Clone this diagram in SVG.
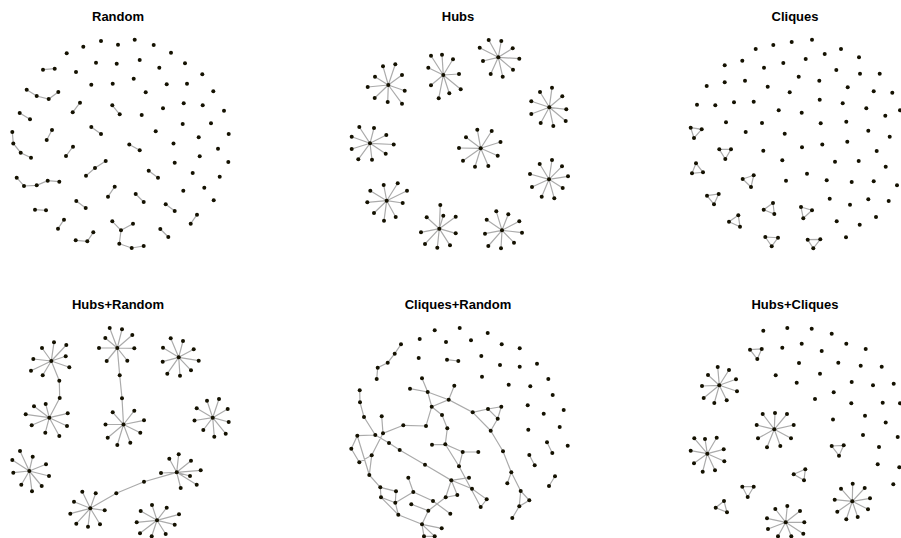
<svg xmlns="http://www.w3.org/2000/svg" width="901" height="538" viewBox="0 0 901 538">
<style>
.t{font-family:"Liberation Sans",Arial,sans-serif;font-weight:bold;font-size:13px;text-anchor:middle;fill:#000}
.e{fill:none;stroke:#ababab;stroke-width:1.2}
.n circle{fill:#141100}
</style>
<rect width="901" height="538" fill="#fff"/>
<g id="titles">
<text class="t" x="118" y="21">Random</text>
<text class="t" x="458" y="21">Hubs</text>
<text class="t" x="795" y="21">Cliques</text>
<text class="t" x="118" y="309">Hubs+Random</text>
<text class="t" x="458" y="309">Cliques+Random</text>
<text class="t" x="795" y="309">Hubs+Cliques</text>
</g>

<g id="connectors">
<path id="edges-random" class="e" d="M43,69.7L54.7,68.7M26.7,89.7L36.7,96L48.7,99L58.3,92M80,102.7L72.7,112.3M112.3,105.3L119.7,114.3M19.7,113L30,119.3M91.3,127L101,134M52,130L46.7,140M12.3,132L13.3,143.5L20.7,152.7L31,157.7M129.3,144.5L139.7,150.3M73,146.7L66,156M105.7,161L95,168L86,175.7M148.7,170.7L158,177.7M16.7,177.7L24,186L36.7,185.3L47.7,180.7L59.3,181.7M114.7,186.7L108,196.7M135.7,194L143.7,202M76.3,201L85.7,208M165.7,204.3L174.7,211M35,209.7L46,210.3M197,214.7L190.7,223.7M64,219.7L58,228.7M112.3,221.3L121,230.3L133,223.7M121,230.3L119.3,243.7L131.7,248L143.7,246M160.3,229L168.3,237M75.7,240.3L87.3,241.3L93.3,232.3"/>
<path id="edges-hubs" class="e" d="M388.3,85L383,66.3M388.3,85L395.3,64.3M388.3,85L375,76.7M388.3,85L402,75M388.3,85L367.7,87M388.3,85L404.7,90.7M388.3,85L374.7,98M388.3,85L387.7,102M388.3,85L402,103.7
M443.3,75L431,55.7M443.3,75L442,54.7M443.3,75L453,59.3M443.3,75L428.3,67.7M443.3,75L459,74M443.3,75L431,85.3M443.3,75L460.7,89.3M443.3,75L438.7,98.3M443.3,75L449.3,93.3
M498.3,57.3L488.7,40M498.3,57.3L501.3,41M498.3,57.3L479.7,47.7M498.3,57.3L512.7,48.3M498.3,57.3L483,61M498.3,57.3L519.3,58.7M498.3,57.3L490.7,74M498.3,57.3L513,69.7M498.3,57.3L502.7,76.7
M549.3,107.3L540,92M549.3,107.3L552,87.7M549.3,107.3L562.3,96.3M549.3,107.3L531.3,101.3M549.3,107.3L566.3,109.3M549.3,107.3L531.3,114M549.3,107.3L565.7,121M549.3,107.3L540.7,123M549.3,107.3L553.3,126
M370,143.3L359.3,127M370,143.3L374,128M370,143.3L351.7,136.7M370,143.3L386.3,135M370,143.3L393.7,144.5M370,143.3L351.7,149M370,143.3L385.7,153.7M370,143.3L358.3,159.3M370,143.3L372,159.7
M480.7,148.3L477.3,129.7M480.7,148.3L491.7,131M480.7,148.3L466,137.3M480.7,148.3L500.5,142M480.7,148.3L459,148M480.7,148.3L497.7,155.7M480.7,148.3L463,160.7M480.7,148.3L475,166.7M480.7,148.3L488.3,166
M549,179.3L539.7,164M549,179.3L552,160M549,179.3L562,166.3M549,179.3L530,174M549,179.3L568,176.3M549,179.3L532,187M549,179.3L562.7,188M549,179.3L541.7,196.7M549,179.3L554.3,198.3
M386.7,200.7L383.7,185M386.7,200.7L397.7,183.3M386.7,200.7L370.3,190.7M386.7,200.7L407,190.7M386.7,200.7L367.3,202.3M386.7,200.7L402.7,203M386.7,200.7L374,213M386.7,200.7L395.7,217M386.7,200.7L384,220.7
M439.3,228.7L440.3,205M439.3,228.7L443.3,215.7M439.3,228.7L426.7,217.3M439.3,228.7L455.7,216.7M439.3,228.7L421,232.3M439.3,228.7L455.7,233.3M439.3,228.7L425,244M439.3,228.7L437.3,247.7M439.3,228.7L450,245.3
M502,230.3L496.3,211.3M502,230.3L508.3,214.3M502,230.3L486.7,219.7M502,230.3L519.3,221.3M502,230.3L485,233.7M502,230.3L522,232.7M502,230.3L488.3,246M502,230.3L501,248.3M502,230.3L514,242.7"/>
<path id="edges-cliques" class="e" d="M690.7,127.7L701.7,129.3L694,138ZM719.3,149.3L731,149.3L725.3,159ZM696,163.3L692,173.3L703,172.3ZM742.7,179L753.7,175.3L751,187ZM707,195.7L718.7,194L714,204.3ZM773,203L763.7,209.7L774.3,214ZM801,207L812,210.3L803.3,218.3ZM738.3,215.3L729,221.7L740,226.7ZM765.3,237L778,237.7L771.7,246.3ZM807.7,239.7L820.3,239.3L813.3,248.3Z"/>
<path id="edges-hubs-random" class="e" d="M51.3,361L54,342.3M51.3,361L66.3,345M51.3,361L42,348M51.3,361L33.3,359M51.3,361L65.7,356.3M51.3,361L31,370.7M51.3,361L69.3,367.3M51.3,361L42.7,375.3M51.3,361L59.3,380.7
M49.3,417.7L34,406.3M49.3,417.7L45.7,404M49.3,417.7L25.7,414.3M49.3,417.7L67.7,413.3M49.3,417.7L59.7,398M49.3,417.7L31.7,425.3M49.3,417.7L45.3,432.7M49.3,417.7L59.3,436M49.3,417.7L67,426M59.3,380.7L59.7,398
M117.3,348L109.7,328M117.3,348L122,329.3M117.3,348L132.3,335M117.3,348L105.3,338M117.3,348L99,348M117.3,348L134.3,348.3M117.3,348L106.7,361M117.3,348L127.3,360.7M117.3,348L119.7,375.3
M123.5,424.5L112.7,412.3M123.5,424.5L134.3,410.7M123.5,424.5L122,398.3M123.5,424.5L105.5,424.5M123.5,424.5L144,420.3M123.5,424.5L140.3,432.7M123.5,424.5L107.7,437.7M123.5,424.5L130.3,442.7M123.5,424.5L117.3,445M119.7,375.3L122,398.3
M178.7,357.3L170.7,338.3M178.7,357.3L183,341M178.7,357.3L163,347.7M178.7,357.3L193.7,349.3M178.7,357.3L162.7,361.7M178.7,357.3L198.7,360.7M178.7,357.3L167.3,373.7M178.7,357.3L180,375.7M178.7,357.3L191,370.3
M212.7,417.7L207,400.7M212.7,417.7L219,399M212.7,417.7L196.7,408.3M212.7,417.7L227.7,409M212.7,417.7L194.5,420.5M212.7,417.7L228.7,422M212.7,417.7L203.3,430M212.7,417.7L214.3,436.7M212.7,417.7L225.7,433.7
M29.3,471L20,451M29.3,471L32.7,456.7M29.3,471L12.3,460M29.3,471L46,464.3M29.3,471L13.3,472.7M29.3,471L49,476M29.3,471L21.3,484.7M29.3,471L41.7,486M29.3,471L32,491.3
M176.7,472.3L169.3,458.7M176.7,472.3L178.7,454.3M176.7,472.3L191,460.7M176.7,472.3L161,473M176.7,472.3L200.7,470.3M176.7,472.3L190,476M176.7,472.3L196.7,484.7M176.7,472.3L180.7,488M176.7,472.3L144,481.7L116.3,493.3L90.3,508.3
M90.3,508.3L82.3,491.7M90.3,508.3L95.7,493.3M90.3,508.3L74,501.7M90.3,508.3L104.7,510.3M90.3,508.3L70.3,513.7M90.3,508.3L76.3,523.7M90.3,508.3L88,526.7M90.3,508.3L100,524.3
M157,520.3L152,505M157,520.3L166.7,507.7M157,520.3L140.7,511M157,520.3L179,514.3M157,520.3L136.7,522.3M157,520.3L174.7,524.7M157,520.3L140,533.3M157,520.3L151.7,536.3M157,520.3L165.7,534"/>
<path id="edges-cliques-random" class="e" d="M447,359.7L458.3,361M401,344.3L394.7,353.7L387.7,362.7L377.7,367.7L376.7,379M547,442.3L552.3,453M529.3,455L534.7,465.3M555,476.3L549,486
M422,378.3L427.7,392M410,388.7L427.7,392L448.7,399.7L454.3,385.7M427.7,392L431.7,406.7L448.7,399.7L472.7,412.3L488,409M431.7,406.7L442,415M488,409L501.3,406.7L497.7,418.7ZM472.7,412.3L490.7,430.7L497.7,418.7M490.7,430.7L503,451.3L511.3,472.3L520.7,491M511.3,472.3L507.3,483.3M520.7,491L529.3,500.3L519.3,506.3ZM519.3,506.3L512.3,518
M359.7,390.3L360,402.3L364,417L375.3,435M381.7,416.3L383,433.3L403.3,425.3L426,426L431.7,406.7M357.3,435.7L375.3,435M442,415L447.3,428.3L445.3,444.3L462.7,452L478.3,452M432,444.7L445.3,444.3L459,466.3L462.7,452M357.3,435.7L351.3,448.7L359.3,462.3L371.7,455.3L369.3,475ZM371.7,455.3L383,433.3M375.3,435L389,443L399.7,450L425,464.7L451.3,480.3L469,477.7M451.3,480.3L472,488.7L486.7,499.3L480.7,507L459,466.3M451.3,480.3L445.7,497.3L457.3,495ZM445.7,497.3L428.3,510.7M413.3,492L433,501L450.3,513.7M408.3,477.7L413.3,492M411.3,504.3L428.3,510.7M395.3,502.7L413.3,492M380.3,487.3L396,491.3L395.3,502.7L381,497.3ZM369.3,475L380.3,487.3M381,497.3L398.3,514.7L395.3,502.7M398.3,514.7L422,524.3L428.3,510.7M422,524.3L441.7,528.3M422,524.3L424,536.3L434.7,536.3Z"/>
<path id="edges-hubs-cliques" class="e" d="M750,349.7L761.7,349L757.3,359ZM831.7,446L843.7,445.3L839,455.7ZM793.7,474.3L805.3,469.3L804,480.3ZM742.3,486.7L753.7,486.7L747.7,497ZM724,501L715.7,507.7L727,512.3Z
M719.3,385.3L717.7,367M719.3,385.3L729,370M719.3,385.3L708,375M719.3,385.3L736,379.3M719.3,385.3L702,386M719.3,385.3L737,391.3M719.3,385.3L703.7,398M719.3,385.3L726.7,400.3M719.3,385.3L714.3,403
M774.3,429.3L762.7,414M774.3,429.3L775,413M774.3,429.3L787,414M774.3,429.3L756.7,425M774.3,429.3L793.7,425M774.3,429.3L758,438.3M774.3,429.3L791,438.3M774.3,429.3L767,447.3M774.3,429.3L780.3,446
M707.3,453.7L694.3,438.3M707.3,453.7L705,439M707.3,453.7L716.7,437.7M707.3,453.7L690.7,450.7M707.3,453.7L723.7,449.3M707.3,453.7L694,463.3M707.3,453.7L724.3,461.3M707.3,453.7L702.7,471.7M707.3,453.7L715,470.3
M852.3,501.3L852.7,483.7M852.3,501.3L841,488.7M852.3,501.3L864.7,488M852.3,501.3L834.7,499.7M852.3,501.3L870,498.3M852.3,501.3L837.3,511.7M852.3,501.3L868,509.3M852.3,501.3L846.3,519.3M852.3,501.3L857.7,517
M785.7,522.3L775.3,509M785.7,522.3L787.3,506M785.7,522.3L800,511M785.7,522.3L767,518.3M785.7,522.3L804.3,522.3M785.7,522.3L768,529M785.7,522.3L803.3,533.7M785.7,522.3L778,536.3M785.7,522.3L791.3,536.3"/>
</g>

<g id="nodes-random" class="n">
<circle cx="101" cy="41" r="2"/><circle cx="134.7" cy="39.7" r="2"/><circle cx="118" cy="44.7" r="2"/><circle cx="83.3" cy="46.7" r="2"/><circle cx="153.7" cy="45" r="2"/><circle cx="66.7" cy="53.3" r="2"/><circle cx="171" cy="52.7" r="2"/><circle cx="96" cy="62.7" r="2"/><circle cx="116.7" cy="63.7" r="2"/><circle cx="139.7" cy="60" r="2"/><circle cx="185" cy="63.3" r="2"/><circle cx="159.3" cy="67.7" r="2"/><circle cx="76" cy="72" r="2"/><circle cx="202.3" cy="74.3" r="2"/><circle cx="91.3" cy="84.7" r="2"/><circle cx="112.7" cy="83.7" r="2"/><circle cx="133.7" cy="78.7" r="2"/><circle cx="166.7" cy="84.3" r="2"/><circle cx="187" cy="83.7" r="2"/><circle cx="145.7" cy="92.3" r="2"/><circle cx="213.3" cy="91.3" r="2"/><circle cx="163" cy="108.3" r="2"/><circle cx="183.7" cy="103.3" r="2"/><circle cx="202.7" cy="105.3" r="2"/><circle cx="224" cy="110.7" r="2"/><circle cx="141.7" cy="115" r="2"/><circle cx="182.7" cy="124" r="2"/><circle cx="211" cy="123.3" r="2"/><circle cx="155.7" cy="131.3" r="2"/><circle cx="228.7" cy="134" r="2"/><circle cx="198.7" cy="137.3" r="2"/><circle cx="173.5" cy="143.5" r="2"/><circle cx="218" cy="148.7" r="2"/><circle cx="199.7" cy="156.3" r="2"/><circle cx="174.7" cy="162.7" r="2"/><circle cx="228.3" cy="162" r="2"/><circle cx="192.7" cy="173" r="2"/><circle cx="219.7" cy="176.7" r="2"/><circle cx="183.3" cy="190.7" r="2"/><circle cx="204.3" cy="187.7" r="2"/><circle cx="213.7" cy="200.3" r="2"/>
<circle cx="43" cy="69.7" r="2"/><circle cx="54.7" cy="68.7" r="2"/><circle cx="26.7" cy="89.7" r="2"/><circle cx="36.7" cy="96" r="2"/><circle cx="48.7" cy="99" r="2"/><circle cx="58.3" cy="92" r="2"/><circle cx="80" cy="102.7" r="2"/><circle cx="72.7" cy="112.3" r="2"/><circle cx="112.3" cy="105.3" r="2"/><circle cx="119.7" cy="114.3" r="2"/><circle cx="19.7" cy="113" r="2"/><circle cx="30" cy="119.3" r="2"/><circle cx="91.3" cy="127" r="2"/><circle cx="101" cy="134" r="2"/><circle cx="52" cy="130" r="2"/><circle cx="46.7" cy="140" r="2"/><circle cx="12.3" cy="132" r="2"/><circle cx="13.3" cy="143.5" r="2"/><circle cx="20.7" cy="152.7" r="2"/><circle cx="31" cy="157.7" r="2"/><circle cx="129.3" cy="144.5" r="2"/><circle cx="139.7" cy="150.3" r="2"/><circle cx="73" cy="146.7" r="2"/><circle cx="66" cy="156" r="2"/><circle cx="105.7" cy="161" r="2"/><circle cx="95" cy="168" r="2"/><circle cx="86" cy="175.7" r="2"/><circle cx="148.7" cy="170.7" r="2"/><circle cx="158" cy="177.7" r="2"/><circle cx="16.7" cy="177.7" r="2"/><circle cx="24" cy="186" r="2"/><circle cx="36.7" cy="185.3" r="2"/><circle cx="47.7" cy="180.7" r="2"/><circle cx="59.3" cy="181.7" r="2"/><circle cx="114.7" cy="186.7" r="2"/><circle cx="108" cy="196.7" r="2"/><circle cx="135.7" cy="194" r="2"/><circle cx="143.7" cy="202" r="2"/><circle cx="76.3" cy="201" r="2"/><circle cx="85.7" cy="208" r="2"/><circle cx="165.7" cy="204.3" r="2"/><circle cx="174.7" cy="211" r="2"/><circle cx="35" cy="209.7" r="2"/><circle cx="46" cy="210.3" r="2"/><circle cx="197" cy="214.7" r="2"/><circle cx="190.7" cy="223.7" r="2"/><circle cx="64" cy="219.7" r="2"/><circle cx="58" cy="228.7" r="2"/><circle cx="112.3" cy="221.3" r="2"/><circle cx="121" cy="230.3" r="2"/><circle cx="133" cy="223.7" r="2"/><circle cx="119.3" cy="243.7" r="2"/><circle cx="131.7" cy="248" r="2"/><circle cx="143.7" cy="246" r="2"/><circle cx="160.3" cy="229" r="2"/><circle cx="168.3" cy="237" r="2"/><circle cx="75.7" cy="240.3" r="2"/><circle cx="87.3" cy="241.3" r="2"/><circle cx="93.3" cy="232.3" r="2"/>
</g>

<g id="nodes-hubs" class="n">
<circle cx="388.3" cy="85" r="2"/><circle cx="383" cy="66.3" r="2"/><circle cx="395.3" cy="64.3" r="2"/><circle cx="375" cy="76.7" r="2"/><circle cx="402" cy="75" r="2"/><circle cx="367.7" cy="87" r="2"/><circle cx="404.7" cy="90.7" r="2"/><circle cx="374.7" cy="98" r="2"/><circle cx="387.7" cy="102" r="2"/><circle cx="402" cy="103.7" r="2"/>
<circle cx="443.3" cy="75" r="2"/><circle cx="431" cy="55.7" r="2"/><circle cx="442" cy="54.7" r="2"/><circle cx="453" cy="59.3" r="2"/><circle cx="428.3" cy="67.7" r="2"/><circle cx="459" cy="74" r="2"/><circle cx="431" cy="85.3" r="2"/><circle cx="460.7" cy="89.3" r="2"/><circle cx="438.7" cy="98.3" r="2"/><circle cx="449.3" cy="93.3" r="2"/>
<circle cx="498.3" cy="57.3" r="2"/><circle cx="488.7" cy="40" r="2"/><circle cx="501.3" cy="41" r="2"/><circle cx="479.7" cy="47.7" r="2"/><circle cx="512.7" cy="48.3" r="2"/><circle cx="483" cy="61" r="2"/><circle cx="519.3" cy="58.7" r="2"/><circle cx="490.7" cy="74" r="2"/><circle cx="513" cy="69.7" r="2"/><circle cx="502.7" cy="76.7" r="2"/>
<circle cx="549.3" cy="107.3" r="2"/><circle cx="540" cy="92" r="2"/><circle cx="552" cy="87.7" r="2"/><circle cx="562.3" cy="96.3" r="2"/><circle cx="531.3" cy="101.3" r="2"/><circle cx="566.3" cy="109.3" r="2"/><circle cx="531.3" cy="114" r="2"/><circle cx="565.7" cy="121" r="2"/><circle cx="540.7" cy="123" r="2"/><circle cx="553.3" cy="126" r="2"/>
<circle cx="370" cy="143.3" r="2"/><circle cx="359.3" cy="127" r="2"/><circle cx="374" cy="128" r="2"/><circle cx="351.7" cy="136.7" r="2"/><circle cx="386.3" cy="135" r="2"/><circle cx="393.7" cy="144.5" r="2"/><circle cx="351.7" cy="149" r="2"/><circle cx="385.7" cy="153.7" r="2"/><circle cx="358.3" cy="159.3" r="2"/><circle cx="372" cy="159.7" r="2"/>
<circle cx="480.7" cy="148.3" r="2"/><circle cx="477.3" cy="129.7" r="2"/><circle cx="491.7" cy="131" r="2"/><circle cx="466" cy="137.3" r="2"/><circle cx="500.5" cy="142" r="2"/><circle cx="459" cy="148" r="2"/><circle cx="497.7" cy="155.7" r="2"/><circle cx="463" cy="160.7" r="2"/><circle cx="475" cy="166.7" r="2"/><circle cx="488.3" cy="166" r="2"/>
<circle cx="549" cy="179.3" r="2"/><circle cx="539.7" cy="164" r="2"/><circle cx="552" cy="160" r="2"/><circle cx="562" cy="166.3" r="2"/><circle cx="530" cy="174" r="2"/><circle cx="568" cy="176.3" r="2"/><circle cx="532" cy="187" r="2"/><circle cx="562.7" cy="188" r="2"/><circle cx="541.7" cy="196.7" r="2"/><circle cx="554.3" cy="198.3" r="2"/>
<circle cx="386.7" cy="200.7" r="2"/><circle cx="383.7" cy="185" r="2"/><circle cx="397.7" cy="183.3" r="2"/><circle cx="370.3" cy="190.7" r="2"/><circle cx="407" cy="190.7" r="2"/><circle cx="367.3" cy="202.3" r="2"/><circle cx="402.7" cy="203" r="2"/><circle cx="374" cy="213" r="2"/><circle cx="395.7" cy="217" r="2"/><circle cx="384" cy="220.7" r="2"/>
<circle cx="439.3" cy="228.7" r="2"/><circle cx="440.3" cy="205" r="2"/><circle cx="443.3" cy="215.7" r="2"/><circle cx="426.7" cy="217.3" r="2"/><circle cx="455.7" cy="216.7" r="2"/><circle cx="421" cy="232.3" r="2"/><circle cx="455.7" cy="233.3" r="2"/><circle cx="425" cy="244" r="2"/><circle cx="437.3" cy="247.7" r="2"/><circle cx="450" cy="245.3" r="2"/>
<circle cx="502" cy="230.3" r="2"/><circle cx="496.3" cy="211.3" r="2"/><circle cx="508.3" cy="214.3" r="2"/><circle cx="486.7" cy="219.7" r="2"/><circle cx="519.3" cy="221.3" r="2"/><circle cx="485" cy="233.7" r="2"/><circle cx="522" cy="232.7" r="2"/><circle cx="488.3" cy="246" r="2"/><circle cx="501" cy="248.3" r="2"/><circle cx="514" cy="242.7" r="2"/>
</g>

<g id="nodes-cliques" class="n">
<circle cx="690.7" cy="127.7" r="2"/><circle cx="701.7" cy="129.3" r="2"/><circle cx="694" cy="138" r="2"/><circle cx="719.3" cy="149.3" r="2"/><circle cx="731" cy="149.3" r="2"/><circle cx="725.3" cy="159" r="2"/><circle cx="696" cy="163.3" r="2"/><circle cx="692" cy="173.3" r="2"/><circle cx="703" cy="172.3" r="2"/><circle cx="742.7" cy="179" r="2"/><circle cx="753.7" cy="175.3" r="2"/><circle cx="751" cy="187" r="2"/><circle cx="707" cy="195.7" r="2"/><circle cx="718.7" cy="194" r="2"/><circle cx="714" cy="204.3" r="2"/><circle cx="773" cy="203" r="2"/><circle cx="763.7" cy="209.7" r="2"/><circle cx="774.3" cy="214" r="2"/><circle cx="801" cy="207" r="2"/><circle cx="812" cy="210.3" r="2"/><circle cx="803.3" cy="218.3" r="2"/><circle cx="738.3" cy="215.3" r="2"/><circle cx="729" cy="221.7" r="2"/><circle cx="740" cy="226.7" r="2"/><circle cx="765.3" cy="237" r="2"/><circle cx="778" cy="237.7" r="2"/><circle cx="771.7" cy="246.3" r="2"/><circle cx="807.7" cy="239.7" r="2"/><circle cx="820.3" cy="239.3" r="2"/><circle cx="813.3" cy="248.3" r="2"/>
<circle cx="812" cy="39.7" r="2"/><circle cx="791.7" cy="42" r="2"/><circle cx="773.3" cy="45" r="2"/><circle cx="755.7" cy="49" r="2"/><circle cx="841" cy="49" r="2"/><circle cx="824.7" cy="54" r="2"/><circle cx="859" cy="57.3" r="2"/><circle cx="805.7" cy="59" r="2"/><circle cx="742.3" cy="60.7" r="2"/><circle cx="783.3" cy="63" r="2"/><circle cx="724.7" cy="65.3" r="2"/><circle cx="764" cy="67.7" r="2"/><circle cx="836.3" cy="70" r="2"/><circle cx="860" cy="73.7" r="2"/><circle cx="879.7" cy="73.7" r="2"/><circle cx="798.7" cy="76.7" r="2"/><circle cx="724.7" cy="82.3" r="2"/><circle cx="745" cy="80.7" r="2"/><circle cx="819.3" cy="80.7" r="2"/><circle cx="706.7" cy="86" r="2"/><circle cx="767.7" cy="86.7" r="2"/><circle cx="847.7" cy="87.3" r="2"/><circle cx="789.7" cy="92.3" r="2"/><circle cx="873.7" cy="91.3" r="2"/><circle cx="892.3" cy="92.7" r="2"/><circle cx="819.7" cy="99.7" r="2"/><circle cx="697" cy="104.7" r="2"/><circle cx="715.3" cy="105.3" r="2"/><circle cx="734" cy="102.3" r="2"/><circle cx="753.7" cy="101.7" r="2"/><circle cx="842.7" cy="103.3" r="2"/><circle cx="778.7" cy="110.3" r="2"/><circle cx="801.7" cy="112.7" r="2"/><circle cx="866.3" cy="108.3" r="2"/><circle cx="900" cy="110.3" r="2"/><circle cx="885.3" cy="115.7" r="2"/><circle cx="726" cy="122.3" r="2"/><circle cx="762" cy="123" r="2"/><circle cx="820.7" cy="123.3" r="2"/><circle cx="846.3" cy="121.7" r="2"/><circle cx="745.7" cy="132" r="2"/><circle cx="784.7" cy="133.7" r="2"/><circle cx="868.3" cy="130.7" r="2"/><circle cx="889.7" cy="136.7" r="2"/><circle cx="822.3" cy="144.5" r="2"/><circle cx="847.3" cy="141.8" r="2"/><circle cx="763.3" cy="150.7" r="2"/><circle cx="802" cy="147.3" r="2"/><circle cx="876.7" cy="151" r="2"/><circle cx="782.3" cy="160.3" r="2"/><circle cx="835" cy="161.7" r="2"/><circle cx="858.7" cy="161" r="2"/><circle cx="885.7" cy="166.7" r="2"/><circle cx="807" cy="173.7" r="2"/><circle cx="786" cy="180.7" r="2"/><circle cx="826.7" cy="180.3" r="2"/><circle cx="851.7" cy="182" r="2"/><circle cx="873.7" cy="181.3" r="2"/><circle cx="897" cy="185.3" r="2"/><circle cx="829.7" cy="198.7" r="2"/><circle cx="868.3" cy="199.3" r="2"/><circle cx="888.7" cy="201" r="2"/><circle cx="850" cy="204.7" r="2"/><circle cx="836.7" cy="221.3" r="2"/><circle cx="859.7" cy="224.7" r="2"/><circle cx="876" cy="217" r="2"/><circle cx="846" cy="237.3" r="2"/>
</g>

<g id="nodes-hubs-random" class="n">
<circle cx="51.3" cy="361" r="2"/><circle cx="54" cy="342.3" r="2"/><circle cx="66.3" cy="345" r="2"/><circle cx="42" cy="348" r="2"/><circle cx="33.3" cy="359" r="2"/><circle cx="65.7" cy="356.3" r="2"/><circle cx="31" cy="370.7" r="2"/><circle cx="69.3" cy="367.3" r="2"/><circle cx="42.7" cy="375.3" r="2"/><circle cx="59.3" cy="380.7" r="2"/>
<circle cx="49.3" cy="417.7" r="2"/><circle cx="34" cy="406.3" r="2"/><circle cx="45.7" cy="404" r="2"/><circle cx="25.7" cy="414.3" r="2"/><circle cx="67.7" cy="413.3" r="2"/><circle cx="59.7" cy="398" r="2"/><circle cx="31.7" cy="425.3" r="2"/><circle cx="45.3" cy="432.7" r="2"/><circle cx="59.3" cy="436" r="2"/><circle cx="67" cy="426" r="2"/>
<circle cx="117.3" cy="348" r="2"/><circle cx="109.7" cy="328" r="2"/><circle cx="122" cy="329.3" r="2"/><circle cx="132.3" cy="335" r="2"/><circle cx="105.3" cy="338" r="2"/><circle cx="99" cy="348" r="2"/><circle cx="134.3" cy="348.3" r="2"/><circle cx="106.7" cy="361" r="2"/><circle cx="127.3" cy="360.7" r="2"/><circle cx="119.7" cy="375.3" r="2"/>
<circle cx="123.5" cy="424.5" r="2"/><circle cx="112.7" cy="412.3" r="2"/><circle cx="134.3" cy="410.7" r="2"/><circle cx="122" cy="398.3" r="2"/><circle cx="105.5" cy="424.5" r="2"/><circle cx="144" cy="420.3" r="2"/><circle cx="140.3" cy="432.7" r="2"/><circle cx="107.7" cy="437.7" r="2"/><circle cx="130.3" cy="442.7" r="2"/><circle cx="117.3" cy="445" r="2"/>
<circle cx="178.7" cy="357.3" r="2"/><circle cx="170.7" cy="338.3" r="2"/><circle cx="183" cy="341" r="2"/><circle cx="163" cy="347.7" r="2"/><circle cx="193.7" cy="349.3" r="2"/><circle cx="162.7" cy="361.7" r="2"/><circle cx="198.7" cy="360.7" r="2"/><circle cx="167.3" cy="373.7" r="2"/><circle cx="180" cy="375.7" r="2"/><circle cx="191" cy="370.3" r="2"/>
<circle cx="212.7" cy="417.7" r="2"/><circle cx="207" cy="400.7" r="2"/><circle cx="219" cy="399" r="2"/><circle cx="196.7" cy="408.3" r="2"/><circle cx="227.7" cy="409" r="2"/><circle cx="194.5" cy="420.5" r="2"/><circle cx="228.7" cy="422" r="2"/><circle cx="203.3" cy="430" r="2"/><circle cx="214.3" cy="436.7" r="2"/><circle cx="225.7" cy="433.7" r="2"/>
<circle cx="29.3" cy="471" r="2"/><circle cx="20" cy="451" r="2"/><circle cx="32.7" cy="456.7" r="2"/><circle cx="12.3" cy="460" r="2"/><circle cx="46" cy="464.3" r="2"/><circle cx="13.3" cy="472.7" r="2"/><circle cx="49" cy="476" r="2"/><circle cx="21.3" cy="484.7" r="2"/><circle cx="41.7" cy="486" r="2"/><circle cx="32" cy="491.3" r="2"/>
<circle cx="176.7" cy="472.3" r="2"/><circle cx="169.3" cy="458.7" r="2"/><circle cx="178.7" cy="454.3" r="2"/><circle cx="191" cy="460.7" r="2"/><circle cx="161" cy="473" r="2"/><circle cx="200.7" cy="470.3" r="2"/><circle cx="190" cy="476" r="2"/><circle cx="196.7" cy="484.7" r="2"/><circle cx="180.7" cy="488" r="2"/><circle cx="144" cy="481.7" r="2"/><circle cx="116.3" cy="493.3" r="2"/>
<circle cx="90.3" cy="508.3" r="2"/><circle cx="82.3" cy="491.7" r="2"/><circle cx="95.7" cy="493.3" r="2"/><circle cx="74" cy="501.7" r="2"/><circle cx="104.7" cy="510.3" r="2"/><circle cx="70.3" cy="513.7" r="2"/><circle cx="76.3" cy="523.7" r="2"/><circle cx="88" cy="526.7" r="2"/><circle cx="100" cy="524.3" r="2"/>
<circle cx="157" cy="520.3" r="2"/><circle cx="152" cy="505" r="2"/><circle cx="166.7" cy="507.7" r="2"/><circle cx="140.7" cy="511" r="2"/><circle cx="179" cy="514.3" r="2"/><circle cx="136.7" cy="522.3" r="2"/><circle cx="174.7" cy="524.7" r="2"/><circle cx="140" cy="533.3" r="2"/><circle cx="151.7" cy="536.3" r="2"/><circle cx="165.7" cy="534" r="2"/>
</g>

<g id="nodes-cliques-random" class="n">
<circle cx="434.7" cy="330.3" r="2"/><circle cx="459.7" cy="328" r="2"/><circle cx="487.7" cy="333" r="2"/><circle cx="419.7" cy="339" r="2"/><circle cx="446" cy="342" r="2"/><circle cx="471" cy="340.3" r="2"/><circle cx="501.7" cy="344.3" r="2"/><circle cx="519.7" cy="348.3" r="2"/><circle cx="418.7" cy="358" r="2"/><circle cx="481.3" cy="356" r="2"/><circle cx="500" cy="365" r="2"/><circle cx="519.7" cy="366.7" r="2"/><circle cx="537" cy="363.7" r="2"/><circle cx="482" cy="376.7" r="2"/><circle cx="548.3" cy="379" r="2"/><circle cx="508.7" cy="384.7" r="2"/><circle cx="530.3" cy="386.3" r="2"/><circle cx="552.7" cy="395" r="2"/><circle cx="527.7" cy="405.3" r="2"/><circle cx="543.7" cy="413.7" r="2"/><circle cx="563.7" cy="410" r="2"/><circle cx="528.3" cy="429.7" r="2"/><circle cx="559.7" cy="427" r="2"/><circle cx="567.7" cy="445.7" r="2"/>
<circle cx="447" cy="359.7" r="2"/><circle cx="458.3" cy="361" r="2"/><circle cx="401" cy="344.3" r="2"/><circle cx="394.7" cy="353.7" r="2"/><circle cx="387.7" cy="362.7" r="2"/><circle cx="377.7" cy="367.7" r="2"/><circle cx="376.7" cy="379" r="2"/><circle cx="547" cy="442.3" r="2"/><circle cx="552.3" cy="453" r="2"/><circle cx="529.3" cy="455" r="2"/><circle cx="534.7" cy="465.3" r="2"/><circle cx="555" cy="476.3" r="2"/><circle cx="549" cy="486" r="2"/>
<circle cx="422" cy="378.3" r="2"/><circle cx="410" cy="388.7" r="2"/><circle cx="427.7" cy="392" r="2"/><circle cx="454.3" cy="385.7" r="2"/><circle cx="448.7" cy="399.7" r="2"/><circle cx="431.7" cy="406.7" r="2"/><circle cx="442" cy="415" r="2"/><circle cx="472.7" cy="412.3" r="2"/><circle cx="488" cy="409" r="2"/><circle cx="501.3" cy="406.7" r="2"/><circle cx="497.7" cy="418.7" r="2"/><circle cx="490.7" cy="430.7" r="2"/><circle cx="503" cy="451.3" r="2"/><circle cx="511.3" cy="472.3" r="2"/><circle cx="507.3" cy="483.3" r="2"/><circle cx="520.7" cy="491" r="2"/><circle cx="529.3" cy="500.3" r="2"/><circle cx="519.3" cy="506.3" r="2"/><circle cx="512.3" cy="518" r="2"/>
<circle cx="359.7" cy="390.3" r="2"/><circle cx="360" cy="402.3" r="2"/><circle cx="364" cy="417" r="2"/><circle cx="381.7" cy="416.3" r="2"/><circle cx="375.3" cy="435" r="2"/><circle cx="383" cy="433.3" r="2"/><circle cx="357.3" cy="435.7" r="2"/><circle cx="403.3" cy="425.3" r="2"/><circle cx="426" cy="426" r="2"/><circle cx="447.3" cy="428.3" r="2"/><circle cx="445.3" cy="444.3" r="2"/><circle cx="432" cy="444.7" r="2"/><circle cx="462.7" cy="452" r="2"/><circle cx="478.3" cy="452" r="2"/><circle cx="459" cy="466.3" r="2"/><circle cx="351.3" cy="448.7" r="2"/><circle cx="359.3" cy="462.3" r="2"/><circle cx="371.7" cy="455.3" r="2"/><circle cx="369.3" cy="475" r="2"/><circle cx="389" cy="443" r="2"/><circle cx="399.7" cy="450" r="2"/><circle cx="425" cy="464.7" r="2"/><circle cx="451.3" cy="480.3" r="2"/><circle cx="469" cy="477.7" r="2"/><circle cx="472" cy="488.7" r="2"/><circle cx="486.7" cy="499.3" r="2"/><circle cx="480.7" cy="507" r="2"/><circle cx="445.7" cy="497.3" r="2"/><circle cx="457.3" cy="495" r="2"/><circle cx="428.3" cy="510.7" r="2"/><circle cx="413.3" cy="492" r="2"/><circle cx="433" cy="501" r="2"/><circle cx="450.3" cy="513.7" r="2"/><circle cx="408.3" cy="477.7" r="2"/><circle cx="411.3" cy="504.3" r="2"/><circle cx="395.3" cy="502.7" r="2"/><circle cx="380.3" cy="487.3" r="2"/><circle cx="396" cy="491.3" r="2"/><circle cx="381" cy="497.3" r="2"/><circle cx="398.3" cy="514.7" r="2"/><circle cx="422" cy="524.3" r="2"/><circle cx="441.7" cy="528.3" r="2"/><circle cx="424" cy="536.3" r="2"/><circle cx="434.7" cy="536.3" r="2"/>
</g>

<g id="nodes-hubs-cliques" class="n">
<circle cx="763.3" cy="330.7" r="2"/><circle cx="787.3" cy="328" r="2"/><circle cx="811.7" cy="328.7" r="2"/><circle cx="831.7" cy="333.7" r="2"/><circle cx="782.3" cy="347.7" r="2"/><circle cx="801.7" cy="343.7" r="2"/><circle cx="821.7" cy="351" r="2"/><circle cx="846.3" cy="343.7" r="2"/><circle cx="865.7" cy="349" r="2"/><circle cx="799" cy="363" r="2"/><circle cx="838.3" cy="362.7" r="2"/><circle cx="860.7" cy="365.7" r="2"/><circle cx="881.7" cy="366.7" r="2"/><circle cx="775.7" cy="375.3" r="2"/><circle cx="820" cy="373.7" r="2"/><circle cx="796.7" cy="382.7" r="2"/><circle cx="851.7" cy="382" r="2"/><circle cx="873" cy="385.3" r="2"/><circle cx="893.7" cy="383.7" r="2"/><circle cx="833.7" cy="392.3" r="2"/><circle cx="815" cy="399" r="2"/><circle cx="851.3" cy="403.3" r="2"/><circle cx="882.7" cy="402.7" r="2"/><circle cx="900" cy="403.3" r="2"/><circle cx="833" cy="419.5" r="2"/><circle cx="865" cy="415.7" r="2"/><circle cx="885.7" cy="422.5" r="2"/><circle cx="863" cy="435" r="2"/><circle cx="897.7" cy="437" r="2"/><circle cx="879" cy="447" r="2"/><circle cx="877.7" cy="464.3" r="2"/><circle cx="899.3" cy="467.3" r="2"/><circle cx="893.3" cy="484.3" r="2"/>
<circle cx="750" cy="349.7" r="2"/><circle cx="761.7" cy="349" r="2"/><circle cx="757.3" cy="359" r="2"/><circle cx="831.7" cy="446" r="2"/><circle cx="843.7" cy="445.3" r="2"/><circle cx="839" cy="455.7" r="2"/><circle cx="793.7" cy="474.3" r="2"/><circle cx="805.3" cy="469.3" r="2"/><circle cx="804" cy="480.3" r="2"/><circle cx="742.3" cy="486.7" r="2"/><circle cx="753.7" cy="486.7" r="2"/><circle cx="747.7" cy="497" r="2"/><circle cx="724" cy="501" r="2"/><circle cx="715.7" cy="507.7" r="2"/><circle cx="727" cy="512.3" r="2"/>
<circle cx="719.3" cy="385.3" r="2"/><circle cx="717.7" cy="367" r="2"/><circle cx="729" cy="370" r="2"/><circle cx="708" cy="375" r="2"/><circle cx="736" cy="379.3" r="2"/><circle cx="702" cy="386" r="2"/><circle cx="737" cy="391.3" r="2"/><circle cx="703.7" cy="398" r="2"/><circle cx="726.7" cy="400.3" r="2"/><circle cx="714.3" cy="403" r="2"/>
<circle cx="774.3" cy="429.3" r="2"/><circle cx="762.7" cy="414" r="2"/><circle cx="775" cy="413" r="2"/><circle cx="787" cy="414" r="2"/><circle cx="756.7" cy="425" r="2"/><circle cx="793.7" cy="425" r="2"/><circle cx="758" cy="438.3" r="2"/><circle cx="791" cy="438.3" r="2"/><circle cx="767" cy="447.3" r="2"/><circle cx="780.3" cy="446" r="2"/>
<circle cx="707.3" cy="453.7" r="2"/><circle cx="694.3" cy="438.3" r="2"/><circle cx="705" cy="439" r="2"/><circle cx="716.7" cy="437.7" r="2"/><circle cx="690.7" cy="450.7" r="2"/><circle cx="723.7" cy="449.3" r="2"/><circle cx="694" cy="463.3" r="2"/><circle cx="724.3" cy="461.3" r="2"/><circle cx="702.7" cy="471.7" r="2"/><circle cx="715" cy="470.3" r="2"/>
<circle cx="852.3" cy="501.3" r="2"/><circle cx="852.7" cy="483.7" r="2"/><circle cx="841" cy="488.7" r="2"/><circle cx="864.7" cy="488" r="2"/><circle cx="834.7" cy="499.7" r="2"/><circle cx="870" cy="498.3" r="2"/><circle cx="837.3" cy="511.7" r="2"/><circle cx="868" cy="509.3" r="2"/><circle cx="846.3" cy="519.3" r="2"/><circle cx="857.7" cy="517" r="2"/>
<circle cx="785.7" cy="522.3" r="2"/><circle cx="775.3" cy="509" r="2"/><circle cx="787.3" cy="506" r="2"/><circle cx="800" cy="511" r="2"/><circle cx="767" cy="518.3" r="2"/><circle cx="804.3" cy="522.3" r="2"/><circle cx="768" cy="529" r="2"/><circle cx="803.3" cy="533.7" r="2"/><circle cx="778" cy="536.3" r="2"/><circle cx="791.3" cy="536.3" r="2"/>
</g>
</svg>
